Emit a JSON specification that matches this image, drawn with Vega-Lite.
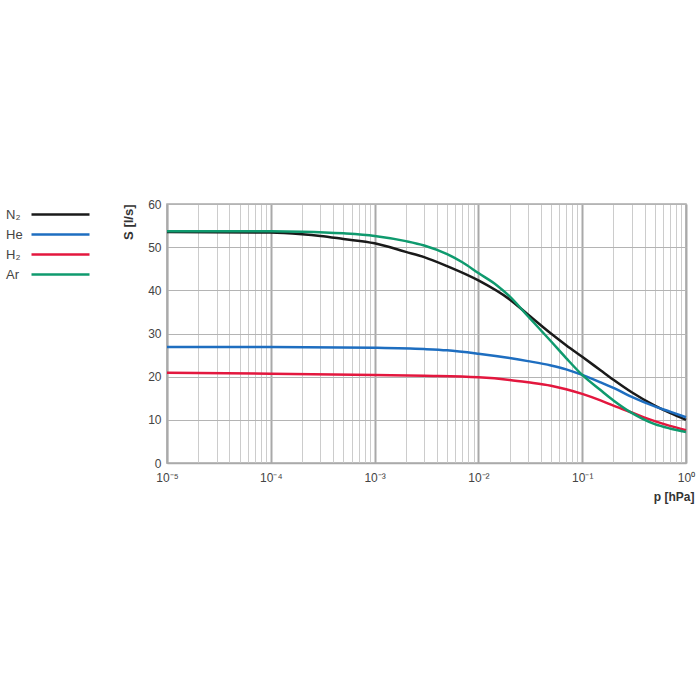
{
  "$schema": "https://vega.github.io/schema/vega-lite/v6.json",
  "description": "Pumping speed S versus pressure p for N2, He, H2 and Ar.",
  "width": 519,
  "height": 259,
  "autosize": {"type": "none"},
  "padding": {"left": 167, "top": 204, "right": 14, "bottom": 237},
  "data": {
    "values": [
      {"gas": "N₂", "p": 0.00001, "S": 53.5},
      {"gas": "N₂", "p": 0.0001, "S": 53.4},
      {"gas": "N₂", "p": 0.0002, "S": 53.0},
      {"gas": "N₂", "p": 0.0003, "S": 52.6},
      {"gas": "N₂", "p": 0.0005, "S": 51.9},
      {"gas": "N₂", "p": 0.001, "S": 50.9},
      {"gas": "N₂", "p": 0.002, "S": 48.9},
      {"gas": "N₂", "p": 0.003, "S": 47.7},
      {"gas": "N₂", "p": 0.005, "S": 45.6},
      {"gas": "N₂", "p": 0.01, "S": 42.3},
      {"gas": "N₂", "p": 0.02, "S": 37.9},
      {"gas": "N₂", "p": 0.03, "S": 34.4},
      {"gas": "N₂", "p": 0.05, "S": 30.0},
      {"gas": "N₂", "p": 0.07, "S": 27.3},
      {"gas": "N₂", "p": 0.1, "S": 24.6},
      {"gas": "N₂", "p": 0.15, "S": 21.5},
      {"gas": "N₂", "p": 0.2, "S": 19.3},
      {"gas": "N₂", "p": 0.3, "S": 16.4},
      {"gas": "N₂", "p": 0.5, "S": 13.3},
      {"gas": "N₂", "p": 0.7, "S": 11.6},
      {"gas": "N₂", "p": 1, "S": 10.0},
      {"gas": "He", "p": 0.00001, "S": 26.9},
      {"gas": "He", "p": 0.0001, "S": 26.9},
      {"gas": "He", "p": 0.001, "S": 26.7},
      {"gas": "He", "p": 0.003, "S": 26.4},
      {"gas": "He", "p": 0.005, "S": 26.1},
      {"gas": "He", "p": 0.01, "S": 25.3},
      {"gas": "He", "p": 0.02, "S": 24.3},
      {"gas": "He", "p": 0.03, "S": 23.6},
      {"gas": "He", "p": 0.05, "S": 22.6},
      {"gas": "He", "p": 0.07, "S": 21.7},
      {"gas": "He", "p": 0.1, "S": 20.4},
      {"gas": "He", "p": 0.15, "S": 18.7},
      {"gas": "He", "p": 0.2, "S": 17.4},
      {"gas": "He", "p": 0.3, "S": 15.3},
      {"gas": "He", "p": 0.5, "S": 13.1},
      {"gas": "He", "p": 0.7, "S": 11.9},
      {"gas": "He", "p": 1, "S": 10.6},
      {"gas": "H₂", "p": 0.00001, "S": 20.9},
      {"gas": "H₂", "p": 0.0001, "S": 20.7},
      {"gas": "H₂", "p": 0.001, "S": 20.4},
      {"gas": "H₂", "p": 0.003, "S": 20.2},
      {"gas": "H₂", "p": 0.01, "S": 19.85},
      {"gas": "H₂", "p": 0.02, "S": 19.25},
      {"gas": "H₂", "p": 0.03, "S": 18.7},
      {"gas": "H₂", "p": 0.05, "S": 17.9},
      {"gas": "H₂", "p": 0.07, "S": 17.1},
      {"gas": "H₂", "p": 0.1, "S": 16.0},
      {"gas": "H₂", "p": 0.15, "S": 14.5},
      {"gas": "H₂", "p": 0.2, "S": 13.3},
      {"gas": "H₂", "p": 0.3, "S": 11.7},
      {"gas": "H₂", "p": 0.5, "S": 9.7},
      {"gas": "H₂", "p": 0.7, "S": 8.6},
      {"gas": "H₂", "p": 1, "S": 7.6},
      {"gas": "Ar", "p": 0.00001, "S": 53.7},
      {"gas": "Ar", "p": 0.0001, "S": 53.7},
      {"gas": "Ar", "p": 0.0002, "S": 53.6},
      {"gas": "Ar", "p": 0.0005, "S": 53.2},
      {"gas": "Ar", "p": 0.001, "S": 52.6},
      {"gas": "Ar", "p": 0.002, "S": 51.4},
      {"gas": "Ar", "p": 0.003, "S": 50.4},
      {"gas": "Ar", "p": 0.005, "S": 48.4},
      {"gas": "Ar", "p": 0.007, "S": 46.5},
      {"gas": "Ar", "p": 0.01, "S": 44.0},
      {"gas": "Ar", "p": 0.015, "S": 41.2},
      {"gas": "Ar", "p": 0.02, "S": 38.6},
      {"gas": "Ar", "p": 0.03, "S": 34.0},
      {"gas": "Ar", "p": 0.05, "S": 28.2},
      {"gas": "Ar", "p": 0.07, "S": 24.3},
      {"gas": "Ar", "p": 0.1, "S": 20.4},
      {"gas": "Ar", "p": 0.15, "S": 16.9},
      {"gas": "Ar", "p": 0.2, "S": 14.5},
      {"gas": "Ar", "p": 0.3, "S": 11.6},
      {"gas": "Ar", "p": 0.5, "S": 9.0},
      {"gas": "Ar", "p": 0.7, "S": 8.0},
      {"gas": "Ar", "p": 1, "S": 7.2}
    ]
  },
  "mark": {"type": "line", "interpolate": "monotone", "strokeWidth": 2.5},
  "encoding": {
    "x": {
      "field": "p",
      "type": "quantitative",
      "scale": {"type": "log", "domain": [0.00001, 1], "nice": false},
      "axis": {
        "title": "p [hPa]",
        "titleAnchor": "end",
        "titleAlign": "right",
        "titleX": 527,
        "titleY": 28,
        "titleFontWeight": "bold",
        "values": [
          0.00001, 0.00002, 0.00003, 0.00004, 0.00005, 0.00006, 0.00007, 0.00008, 0.00009,
          0.0001, 0.0002, 0.0003, 0.0004, 0.0005, 0.0006, 0.0007, 0.0008, 0.0009,
          0.001, 0.002, 0.003, 0.004, 0.005, 0.006, 0.007, 0.008, 0.009,
          0.01, 0.02, 0.03, 0.04, 0.05, 0.06, 0.07, 0.08, 0.09,
          0.1, 0.2, 0.3, 0.4, 0.5, 0.6, 0.7, 0.8, 0.9, 1
        ],
        "labelExpr": "abs(log(datum.value)/LN10 - round(log(datum.value)/LN10)) < 0.01 ? (round(log(datum.value)/LN10) == 0 ? '10⁰' : '10⁻' + ['', '¹', '²', '³', '⁴', '⁵'][-round(log(datum.value)/LN10)]) : ''",
        "labelOverlap": false,
        "labelFlush": false,
        "labelPadding": 9,
        "gridColor": {
          "condition": {"test": "abs(log(datum.value)/LN10 - round(log(datum.value)/LN10)) < 0.01", "value": "#a9a9a9"},
          "value": "#cccccc"
        },
        "gridWidth": {
          "condition": {"test": "abs(log(datum.value)/LN10 - round(log(datum.value)/LN10)) < 0.01", "value": 2},
          "value": 1
        }
      }
    },
    "y": {
      "field": "S",
      "type": "quantitative",
      "scale": {"domain": [0, 60], "nice": false},
      "axis": {
        "title": "S [l/s]",
        "titleAnchor": "end",
        "titleFontWeight": "bold",
        "titleFontSize": 13,
        "titlePadding": 12,
        "values": [0, 10, 20, 30, 40, 50, 60],
        "labelPadding": 6,
        "gridColor": "#b4b4b4",
        "gridWidth": 1
      }
    },
    "color": {
      "field": "gas",
      "type": "nominal",
      "scale": {
        "domain": ["N₂", "He", "H₂", "Ar"],
        "range": ["#1a1a1a", "#1e6ec0", "#e3173e", "#0f9a6e"]
      },
      "legend": {
        "title": null,
        "orient": "none",
        "legendX": -162,
        "legendY": 4,
        "padding": 0,
        "symbolType": "M-5.8,0H5.8",
        "symbolSize": 100,
        "symbolStrokeWidth": 2.5,
        "symbolOffset": 49,
        "labelOffset": -61,
        "labelFontSize": 13,
        "labelColor": "#444444",
        "rowPadding": 6
      }
    }
  },
  "config": {
    "font": "Liberation Sans",
    "view": {"stroke": "#aaaaaa", "strokeWidth": 1.5},
    "axis": {
      "ticks": false,
      "domainColor": "#aaaaaa",
      "domainWidth": 1.5,
      "labelFontSize": 12,
      "labelColor": "#444444",
      "titleFontSize": 12,
      "titleColor": "#333333",
      "gridOpacity": 1
    }
  }
}
